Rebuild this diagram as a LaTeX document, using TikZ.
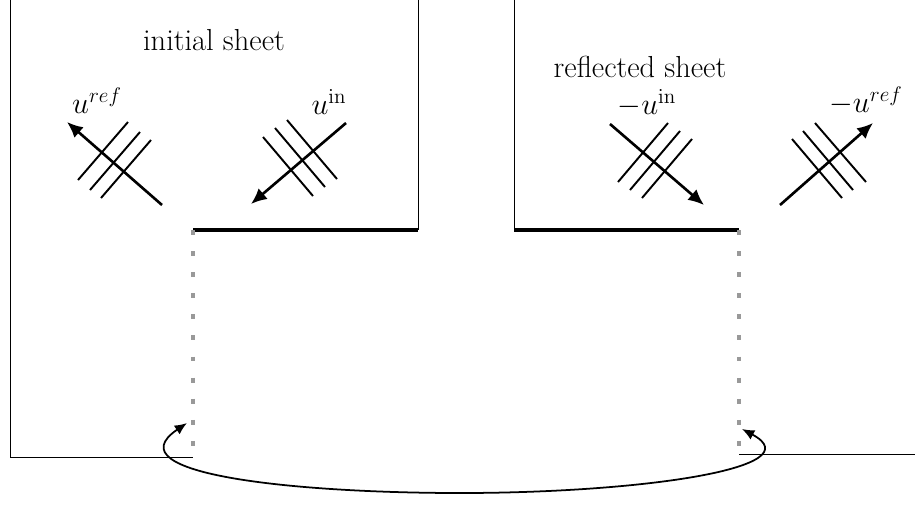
\documentclass[tikz,border=0pt]{standalone}
\usepackage{amsmath}
\usetikzlibrary{arrows.meta}

\tikzset{
  wave/.style={line width=1.5pt,-{Latex[length=9pt,width=8pt]}},
  front/.style={line width=1.1pt},
  edge/.style={line width=2.4pt},
  seam/.style={gray!80,line width=2.8pt,dash pattern=on 2.8pt off 9.2pt},
  lbl/.style={font=\fontsize{17.3}{20}\selectfont,inner sep=1pt}
}

\begin{document}
\begin{tikzpicture}[x=0.02cm,y=-0.02cm]
        \useasboundingbox (0,0) rectangle (915,505);
        % initial sheet
        \coordinate (L0) at (10,0) {};
        \coordinate (L1) at (10,457) {};
        \coordinate (L2) at (193,457) {};
        \coordinate (A) at (193,230) {};
        \coordinate (B) at (418,230) {};
        \coordinate (B0) at (418,0) {};
        \draw[line width=0.45pt] (L0)--(L1)--(L2);
        \draw[line width=0.45pt] (B0)--(B);
        \draw[edge] (A)--(B);
        \draw[seam] (A)--(L2);
        \node[lbl] (init) at (214,40) {initial sheet};
        % reflected sheet
        \coordinate (C0) at (514,0) {};
        \coordinate (C) at (514,230) {};
        \coordinate (D) at (739,230) {};
        \coordinate (R2) at (739,454) {};
        \coordinate (R3) at (915,454) {};
        \draw[line width=0.45pt] (C0)--(C);
        \draw[line width=0.45pt] (R2)--(R3);
        \draw[edge] (C)--(D);
        \draw[seam] (D)--(R2);
        \node[lbl] (refl) at (640,67) {reflected sheet};
        % reflected wave
        \draw[wave] (162,205)--(67,122);
        \draw[front] (78,180)--(128,122) (90,190)--(140,132) (101,198)--(151,140);
        \node[lbl] (uref) at (97,101) {$u^{ref}$};
        % incoming wave
        \draw[wave] (346,123)--(251,204);
        \draw[front] (263,137)--(313,196) (275,128)--(325,187) (287,120)--(337,179);
        \node[lbl] (uin) at (329,102) {$u^{\mathrm{in}}$};
        % mirrored incoming
        \draw[wave] (610,124)--(704,205);
        \draw[front] (618,182)--(668,123) (630,190)--(680,131) (642,198)--(692,139);
        \node[lbl] (muin) at (647,103) {$-u^{\mathrm{in}}$};
        % mirrored reflected
        \draw[wave] (780,205)--(873,123);
        \draw[front] (792,139)--(842,198) (803,131)--(853,190) (815,123)--(866,182);
        \node[lbl] (muref) at (866,101) {$-u^{ref}$};
        % gluing
        \coordinate (p) at (187,423) {};
        \coordinate (q) at (742,429) {};
        \draw[line width=1pt,{Latex[length=7pt,width=6pt]}-{Latex[length=7pt,width=6pt]}] (p) .. controls (110,475) and (300,493) .. (460,493) .. controls (640,493) and (815,468) .. (q);
\end{tikzpicture}
\end{document}
